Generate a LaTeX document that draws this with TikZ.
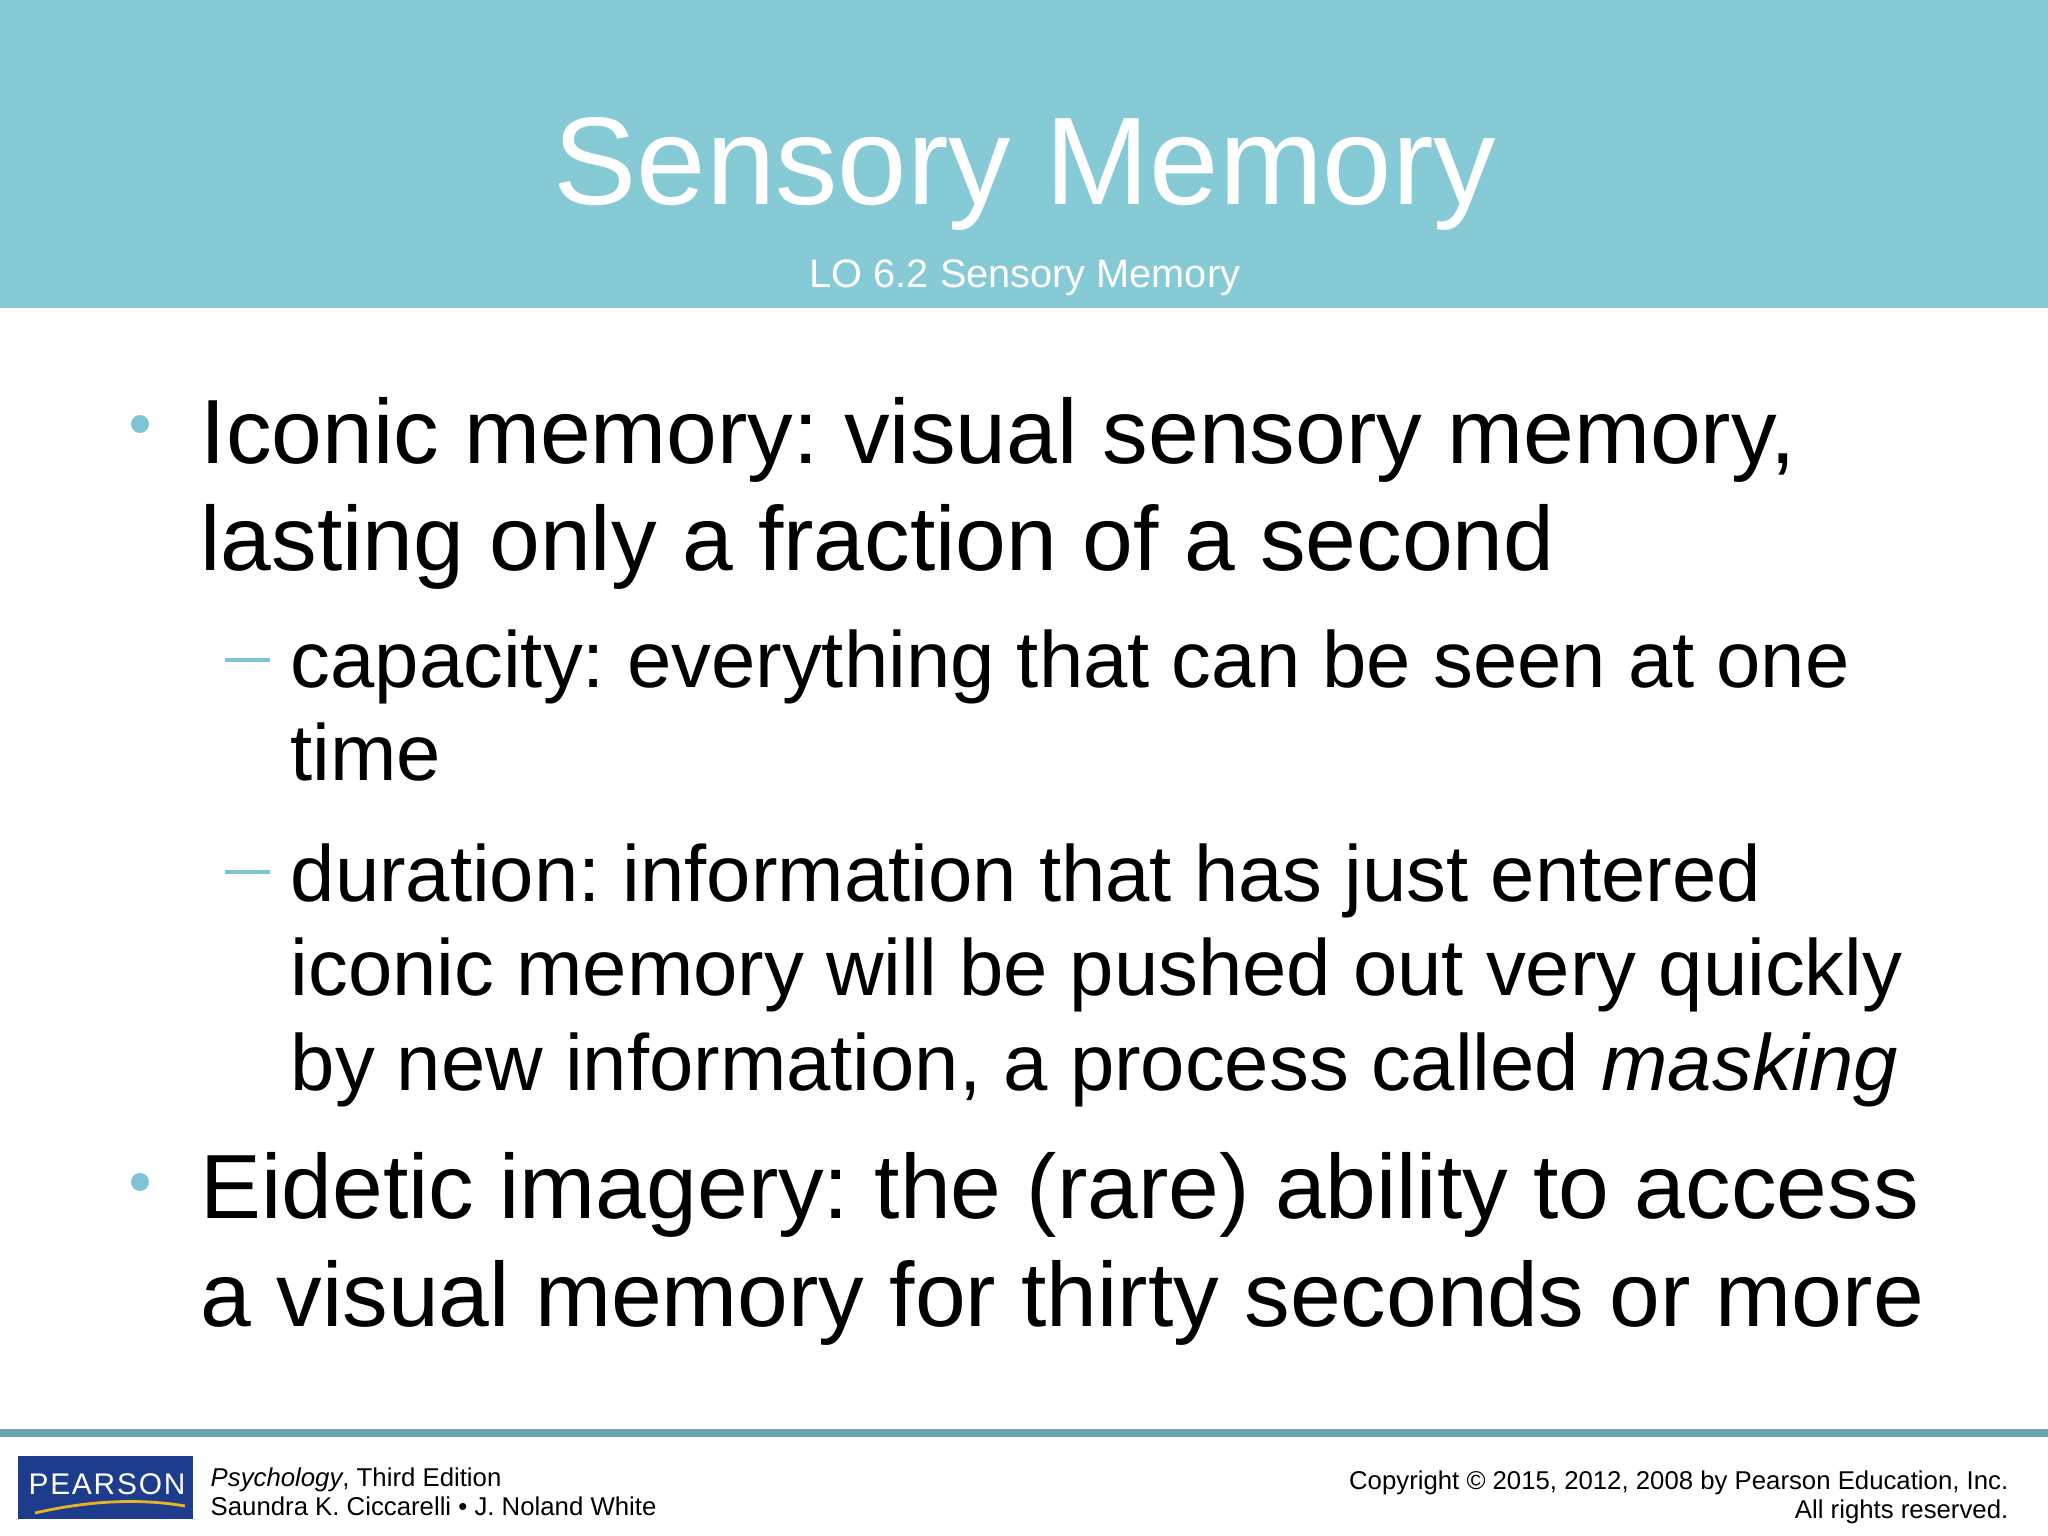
\documentclass[tikz,border=0pt]{standalone}
\usepackage{fontspec}
\setmainfont{Liberation Sans}
\frenchspacing
\definecolor{band}{HTML}{86CAD6}
\definecolor{bul}{HTML}{7FC4D2}
\definecolor{rule}{HTML}{6FA3AE}
\definecolor{pblue}{HTML}{1E3C8C}
\definecolor{pyel}{HTML}{E8B425}
\begin{document}
\begin{tikzpicture}[x=1cm,y=1cm,
  big/.style={anchor=base west,inner sep=0,font=\fontsize{25.95}{32}\selectfont},
  small/.style={anchor=base west,inner sep=0,font=\fontsize{22.67}{28}\selectfont},
  foot/.style={inner sep=0,font=\fontsize{7.33}{8}\selectfont}]
\useasboundingbox (0,0) rectangle (20.48,-15.36);
\fill[white] (0,0) rectangle (20.48,-15.36);
\fill[band] (0,0) rectangle (20.48,-3.08);
\node[inner sep=0,anchor=base,text=white,font=\fontsize{35.5}{42}\selectfont] (title) at (10.25,-2.05) {Sensory Memory};
\node[inner sep=0,anchor=base,text=white,font=\fontsize{11.3}{13}\selectfont] (sub) at (10.25,-2.88) {LO 6.2 Sensory Memory};
% bullets
\fill[bul] (1.40,-4.24) circle (0.09);
\fill[bul] (1.40,-11.82) circle (0.09);
\draw[bul,line width=1.3pt] (2.25,-6.60) -- (2.70,-6.60);
\draw[bul,line width=1.3pt] (2.25,-8.72) -- (2.70,-8.72);
\node[big] (l1) at (2.00,-4.64) {Iconic memory: visual sensory memory,};
\node[big] (l2) at (2.00,-5.71) {lasting only a fraction of a second};
\node[small] (s1) at (2.90,-6.88) {capacity: everything that can be seen at one};
\node[small] (s2) at (2.90,-7.81) {time};
\node[small] (s3) at (2.90,-9.01) {duration: information that has just entered};
\node[small] (s4) at (2.90,-9.95) {iconic memory will be pushed out very quickly};
\node[small] (s5) at (2.90,-10.90) {by new information, a process called \textit{masking}};
\node[big] (l3) at (2.00,-12.18) {Eidetic imagery: the (rare) ability to access};
\node[big] (l4) at (2.00,-13.26) {a visual memory for thirty seconds or more};
% footer
\draw[rule,line width=2pt] (0,-14.33) -- (20.48,-14.33);
\fill[pblue] (0.18,-14.56) rectangle (1.93,-15.19);
\node[inner sep=0,text=white,font=\fontsize{8.5}{9}\selectfont\addfontfeature{LetterSpace=6}] (logo) at (1.07,-14.84) {PEARSON};
\draw[pyel,line width=0.8pt] (0.35,-15.13) .. controls (1.0,-14.98) and (1.5,-15.0) .. (1.85,-15.06);
\node[foot,anchor=base west] (f1) at (2.10,-14.86) {\textit{Psychology}, Third Edition};
\node[foot,anchor=base west] (f2) at (2.10,-15.15) {Saundra K. Ciccarelli • J. Noland White};
\node[foot,anchor=base east] (f3) at (20.09,-14.89) {Copyright © 2015, 2012, 2008 by Pearson Education, Inc.};
\node[foot,anchor=base east] (f4) at (20.09,-15.18) {All rights reserved.};
\end{tikzpicture}
\end{document}
